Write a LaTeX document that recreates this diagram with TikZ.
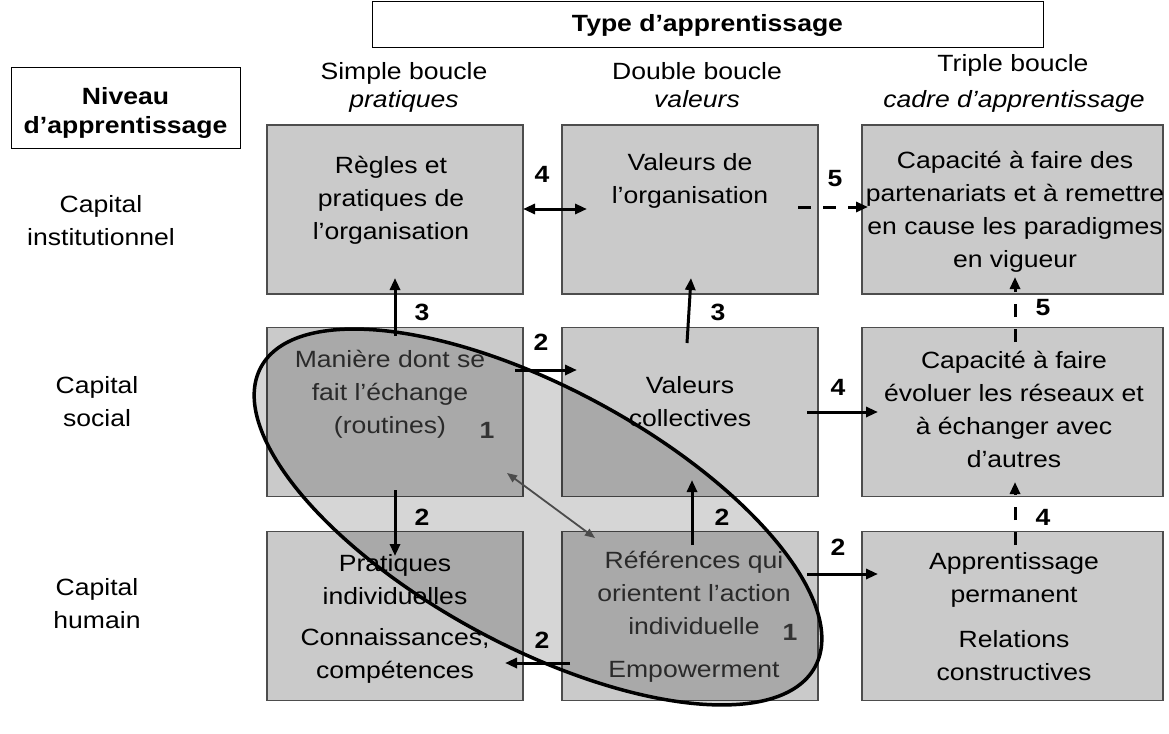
\documentclass[tikz,border=0pt]{standalone}
\usepackage{fontspec}
\setmainfont{Liberation Sans}[FakeStretch=1.13]
\usetikzlibrary{arrows.meta,shapes.geometric}
\definecolor{boxgray}{HTML}{CACACA}
\definecolor{edgegray}{HTML}{4D4D4D}
\definecolor{intext}{HTML}{333333}
\begin{document}
\begin{tikzpicture}[x=1pt,y=-1pt,
  cell/.style={draw=edgegray,line width=1.2pt,fill=boxgray,rectangle,inner sep=0pt,minimum height=169pt},
  frame/.style={draw=black,line width=1pt,rectangle,inner sep=0pt},
  txt/.style={font=\fontsize{23.5}{33}\selectfont,align=center,inner sep=0pt},
  btxt/.style={font=\fontsize{23.5}{29}\selectfont\bfseries,align=center,inner sep=0pt},
  itxt/.style={font=\fontsize{23.5}{33}\selectfont\itshape,align=center,inner sep=0pt},
  num/.style={font=\fontsize{23.5}{27}\selectfont\bfseries,inner sep=0pt},
  arr/.style={line width=3pt,-{Triangle[length=12pt,width=10pt]}},
  darr/.style={line width=3pt,{Triangle[length=12pt,width=10pt]}-{Triangle[length=12pt,width=10pt]}},
  dasharr/.style={arr,dash pattern=on 13pt off 12pt},
  thinarr/.style={line width=1.8pt,draw=black!70,{Triangle[length=10pt,width=8pt]}-{Triangle[length=10pt,width=8pt]}},
  loopshape/.style={ellipse,draw=black,line width=3.5pt,fill=black,fill opacity=0.16,draw opacity=1,inner sep=0pt}
]
\useasboundingbox (0,0) rectangle (1169,733);

% header boxes
\node[frame,btxt,minimum width=671pt,minimum height=46pt] (title) at (707.5,25) {Type d’apprentissage};
\node[frame,minimum width=229pt,minimum height=80pt] (niv) at (125.5,108) {};
\node[btxt] (nivtxt) at (125.5,113) {Niveau\\d’apprentissage};

% column headers
\node[txt,anchor=base] (h1a) at (404,80) {Simple boucle};
\node[itxt,anchor=base] (h1b) at (404,108) {pratiques};
\node[txt,anchor=base] (h2a) at (697,80) {Double boucle};
\node[itxt,anchor=base] (h2b) at (697,108) {valeurs};
\node[txt,anchor=base] (h3a) at (1013,72) {Triple boucle};
\node[itxt,anchor=base] (h3b) at (1014,108) {cadre d’apprentissage};

% row headers
\node[txt] (r1) at (101,221) {Capital\\institutionnel};
\node[txt] (r2) at (97,402) {Capital\\social};
\node[txt] (r3) at (97,604) {Capital\\humain};

% cells
\node[cell,minimum width=256pt] (b11) at (395,209.5) {};
\node[cell,minimum width=256pt] (b12) at (690,209.5) {};
\node[cell,minimum width=301pt] (b13) at (1012.5,209.5) {};
\node[cell,minimum width=256pt] (b21) at (395,412) {};
\node[cell,minimum width=256pt] (b22) at (690,412) {};
\node[cell,minimum width=301pt] (b23) at (1012.5,412) {};
\node[cell,minimum width=256pt] (b31) at (395,616) {};
\node[cell,minimum width=256pt] (b32) at (690,616) {};
\node[cell,minimum width=301pt] (b33) at (1012.5,616) {};

% cell texts
\node[txt] (t11) at (391,200) {Règles et\\pratiques de\\l’organisation};
\node[txt] (t12) at (690,181) {Valeurs de\\l’organisation};
\node[txt] (t13) at (1015,212) {Capacité à faire des\\partenariats et à remettre\\en cause les paradigmes\\en vigueur};
\node[txt,text=intext] (t21) at (390,394) {Manière dont se\\fait l’échange\\(routines)};
\node[txt] (t22) at (690,402) {Valeurs\\collectives};
\node[txt] (t23) at (1014,409) {Capacité à faire\\évoluer les réseaux et\\à échanger avec\\d’autres};
\node[txt] (t31a) at (395,580) {Pratiques\\individuelles};
\node[txt] (t31b) at (395,656) {Connaissances,\\compétences};
\node[txt,text=intext] (t32a) at (694,593) {Références qui\\orientent l’action\\individuelle};
\node[txt,text=intext] (t32b) at (694,672) {Empowerment};
\node[txt] (t33a) at (1014,580) {Apprentissage\\permanent};
\node[txt] (t33b) at (1014,656) {Relations\\constructives};

% loop ellipse
\node[loopshape,rotate=-28.4,minimum width=630pt,minimum height=258pt] (loop) at (538,517) {};

% arrow end points
\coordinate (p4a) at (523,209);  \coordinate (p4b) at (587,209);
\coordinate (p5a) at (798,207);  \coordinate (p5b) at (868,207);
\coordinate (p3a) at (395,336);  \coordinate (p3b) at (395,278);
\coordinate (p3c) at (687,343);  \coordinate (p3d) at (691,278);
\coordinate (p2a) at (515,370);  \coordinate (p2b) at (577,370);
\coordinate (p4c) at (807,412);  \coordinate (p4d) at (878,412);
\coordinate (p5c) at (1015,342); \coordinate (p5d) at (1015,277);
\coordinate (p4e) at (1015,545); \coordinate (p4f) at (1015,482);
\coordinate (p2c) at (395,490);  \coordinate (p2d) at (395,556);
\coordinate (p2e) at (692,545);  \coordinate (p2f) at (692,480);
\coordinate (p2g) at (807,574);  \coordinate (p2h) at (878,574);
\coordinate (p2i) at (570,663);  \coordinate (p2j) at (505,663);
\coordinate (pda) at (507,473);  \coordinate (pdb) at (595,538);

% connectors
\draw[darr] (p4a) -- (p4b);
\draw[dasharr] (p5a) -- (p5b);
\draw[arr] (p3a) -- (p3b);
\draw[arr] (p3c) -- (p3d);
\draw[arr] (p2a) -- (p2b);
\draw[arr] (p4c) -- (p4d);
\draw[dasharr] (p5c) -- (p5d);
\draw[dasharr] (p4e) -- (p4f);
\draw[arr] (p2c) -- (p2d);
\draw[arr] (p2e) -- (p2f);
\draw[arr] (p2g) -- (p2h);
\draw[arr] (p2i) -- (p2j);
\draw[thinarr] (pda) -- (pdb);

% numbers
\node[num,anchor=base] (n4a) at (542,182) {4};
\node[num,anchor=base] (n5a) at (835,186) {5};
\node[num] (n3a) at (422,312) {3};
\node[num] (n3b) at (718,312) {3};
\node[num] (n2a) at (541,342) {2};
\node[num] (n4b) at (838,387) {4};
\node[num] (n5b) at (1043,308) {5};
\node[num,text=intext] (n1a) at (487,430) {1};
\node[num] (n2b) at (422,517) {2};
\node[num] (n2c) at (722,517) {2};
\node[num] (n4c) at (1043,517) {4};
\node[num] (n2d) at (838,547) {2};
\node[num] (n2e) at (542,640) {2};
\node[num,text=intext] (n1b) at (790,632) {1};
\end{tikzpicture}
\end{document}
